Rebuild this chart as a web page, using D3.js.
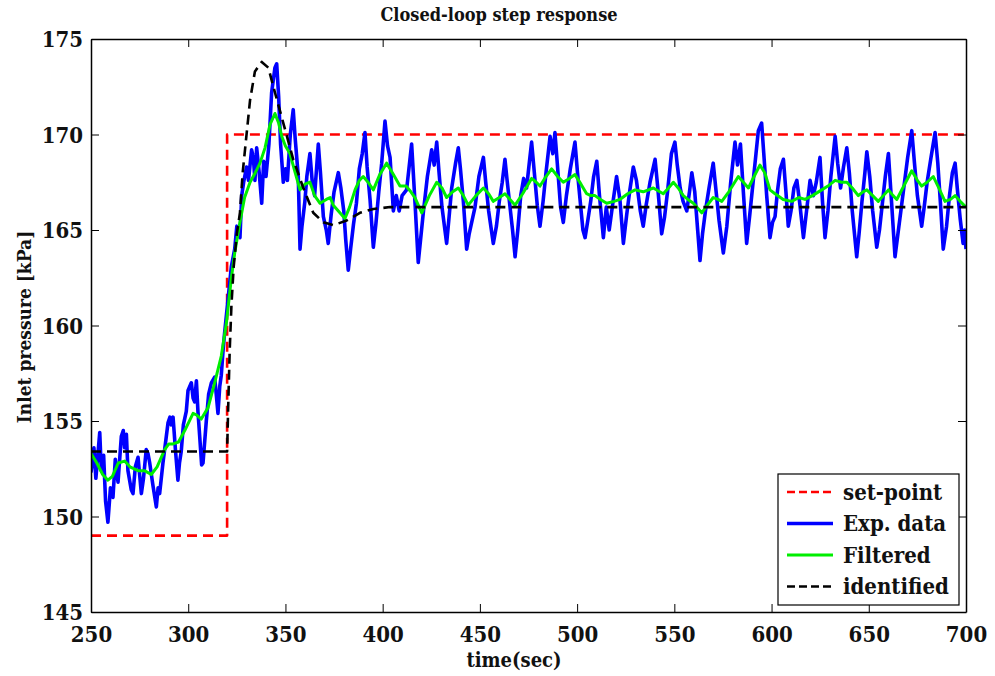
<!DOCTYPE html>
<html lang="en">
<head>
  <meta charset="UTF-8">
  <title>Closed-loop step response</title>
  <script src="https://d3js.org/d3.v7.min.js"></script>
  <style>
    body { margin: 0; background: #fff; }
    text { font-family: "DejaVu Serif Condensed", "DejaVu Serif", serif; font-stretch: condensed; font-weight: bold; fill: #111; }
  </style>
</head>
<body>
  <script>
    // set-point
    const spT = [250, 320, 320, 700];
    const spV = [149, 149, 170, 170];

    const expT = [250.0, 251.5, 252.5, 254.5, 255.3, 256.5, 257.5, 258.7, 260.0, 261.3, 262.5, 263.9, 265.6, 266.6, 267.3, 268.2, 269.0, 270.7, 271.6, 272.8,
      274.2, 275.9, 277.0, 278.4, 279.3, 280.2, 281.9, 283.6, 284.5, 285.3, 287.0, 288.5, 289.6, 290.6, 291.3, 292.2, 293.5, 294.7, 295.5, 296.4,
      297.5, 299.0, 299.9, 301.6, 302.5, 303.3, 304.2, 305.0, 305.9, 306.9, 307.6, 309.3, 310.5, 311.9, 313.6, 314.5, 315.3, 316.2, 317.0, 318.0,
      318.7, 320.4, 322.2, 323.9, 325.0, 326.6, 327.5, 328.5, 330.0, 331.0, 332.6, 333.5, 334.3, 335.2, 336.5, 337.8, 338.8, 340.0, 341.5, 342.9,
      344.6, 345.5, 346.5, 347.5, 348.9, 350.0, 351.0, 352.5, 354.0, 355.0, 356.6, 357.5, 358.5, 360.0, 361.0, 362.6, 363.8, 365.0, 366.9, 368.0,
      369.5, 371.0, 372.0, 373.5, 375.0, 377.2, 378.5, 380.0, 381.0, 382.3, 383.5, 385.0, 386.5, 388.0, 389.5, 390.9, 392.0, 393.5, 395.2, 396.5,
      398.0, 399.5, 401.2, 402.5, 403.8, 405.5, 407.0, 408.5, 410.0, 412.3, 413.5, 414.9, 416.6, 418.3, 419.5, 421.0, 423.0, 425.2, 426.5, 427.8,
      429.0, 430.5, 432.9, 434.0, 435.5, 437.5, 438.9, 440.0, 441.5, 443.2, 444.5, 446.0, 447.5, 449.5, 451.8, 453.0, 454.5, 456.9, 458.5, 460.0,
      461.5, 462.9, 464.0, 465.5, 466.8, 468.1, 469.5, 471.0, 472.5, 474.0, 475.5, 476.6, 478.0, 479.5, 480.9, 482.5, 484.0, 486.1, 487.5, 488.6,
      489.8, 491.5, 492.9, 494.5, 496.5, 498.9, 500.2, 501.5, 503.0, 504.1, 505.5, 507.0, 508.5, 510.1, 511.5, 513.5, 515.0, 516.5, 518.5, 520.3,
      522.0, 523.8, 525.5, 527.0, 528.9, 530.5, 532.5, 534.0, 535.5, 537.5, 540.1, 541.5, 543.5, 545.0, 546.5, 548.5, 550.3, 551.5, 553.0, 554.5,
      556.4, 557.8, 559.0, 560.5, 562.0, 563.2, 564.5, 566.0, 568.0, 570.0, 571.5, 573.0, 575.2, 577.0, 579.0, 581.2, 582.5, 584.0, 585.5, 587.2,
      588.8, 590.5, 592.0, 593.2, 594.9, 596.0, 597.5, 599.2, 600.5, 601.8, 603.0, 604.5, 606.1, 607.4, 608.6, 610.0, 611.5, 613.0, 614.5, 616.4,
      618.0, 619.8, 621.5, 623.0, 624.9, 626.2, 627.5, 629.0, 630.5, 632.7, 634.0, 635.5, 637.0, 638.7, 640.0, 641.5, 643.8, 645.0, 646.5, 648.0,
      649.0, 650.5, 652.0, 654.1, 655.5, 657.0, 658.5, 660.1, 661.5, 663.5, 665.0, 666.5, 668.0, 670.0, 672.1, 673.5, 675.0, 677.2, 678.5, 680.0,
      682.0, 684.1, 685.5, 686.8, 688.3, 690.0, 691.5, 693.0, 694.4, 695.5, 697.0, 698.5, 699.3, 700.0];
    const expV = [152.3, 153.6, 152.0, 154.4, 152.4, 153.2, 150.8, 149.7, 151.5, 151.0, 153.0, 151.8, 154.2, 154.5, 153.6, 154.3, 152.4, 151.4, 151.2, 152.6,
      153.1, 151.2, 152.0, 153.5, 153.3, 152.8, 151.6, 150.5, 151.5, 151.2, 152.8, 154.0, 154.9, 155.2, 154.8, 155.2, 153.4, 151.9, 152.8, 153.4,
      154.8, 155.5, 156.6, 157.0, 156.2, 156.0, 157.1, 155.5, 154.2, 152.7, 152.8, 155.0, 156.4, 157.0, 157.3, 156.3, 155.4, 156.8, 157.4, 158.8,
      159.6, 161.3, 163.1, 164.0, 165.2, 164.6, 166.8, 167.5, 168.3, 167.6, 169.2, 168.8, 167.6, 169.3, 168.0, 166.4, 168.6, 167.8, 169.5, 172.2,
      173.5, 173.7, 172.0, 169.5, 167.5, 168.2, 167.6, 170.0, 171.3, 169.8, 167.8, 164.0, 165.2, 166.5, 167.8, 169.0, 167.5, 166.8, 169.5, 168.0,
      165.7, 165.0, 164.3, 165.8, 167.0, 168.0, 167.2, 166.0, 164.5, 162.9, 164.0, 165.3, 166.4, 168.2, 169.0, 170.1, 168.3, 166.6, 164.1, 165.3,
      167.0, 168.5, 170.7, 169.4, 168.8, 166.0, 166.8, 166.0, 166.8, 167.1, 168.2, 169.5, 166.5, 163.3, 164.5, 166.0, 167.8, 169.2, 168.4, 169.6,
      168.0, 166.2, 164.3, 165.5, 167.2, 168.5, 169.3, 168.2, 166.5, 164.0, 164.8, 165.5, 166.2, 167.8, 168.8, 167.5, 166.0, 164.3, 165.2, 166.5,
      167.5, 168.7, 167.6, 166.2, 165.0, 163.6, 165.0, 166.8, 167.7, 167.2, 168.6, 169.6, 168.0, 166.3, 165.2, 166.5, 168.0, 169.9, 169.0, 170.1,
      168.5, 166.2, 165.4, 166.8, 168.2, 169.6, 168.0, 166.6, 165.0, 164.6, 165.5, 166.5, 167.8, 168.6, 166.8, 164.6, 166.2, 165.0, 166.5, 167.8,
      166.6, 164.3, 165.8, 167.0, 168.3, 167.6, 166.0, 165.2, 166.3, 167.5, 168.7, 167.2, 164.8, 165.7, 167.0, 169.0, 169.6, 168.4, 167.2, 166.5,
      166.0, 167.0, 168.0, 167.0, 165.0, 163.4, 164.8, 166.0, 167.3, 168.5, 167.0, 165.5, 163.8, 165.2, 167.5, 169.6, 168.4, 169.5, 167.0, 164.3,
      165.8, 167.5, 169.0, 170.2, 170.6, 169.0, 166.8, 164.6, 165.4, 165.7, 167.0, 168.2, 168.7, 167.0, 165.2, 166.0, 167.2, 167.6, 166.4, 164.6,
      166.0, 167.6, 166.8, 167.5, 168.8, 166.5, 164.6, 166.0, 167.8, 169.9, 168.5, 167.2, 168.3, 169.3, 168.0, 166.0, 163.6, 164.8, 166.5, 168.0,
      169.1, 167.8, 166.0, 164.1, 165.0, 166.4, 167.8, 169.0, 166.8, 163.6, 164.8, 166.0, 167.2, 168.8, 170.2, 168.5, 166.8, 165.2, 166.2, 167.5,
      168.8, 170.1, 168.5, 166.5, 164.0, 165.2, 166.8, 168.0, 168.5, 167.2, 165.6, 164.3, 165.0, 164.0];

    // filtered data
    const filT = [250, 253, 256, 258.7, 261, 264, 267.3, 270, 274.2, 277.5, 281, 284, 287.9, 290, 292.2, 295, 298.2, 302.5, 304.5, 306.7,
      310.2, 313.6, 317.0, 319.6, 322.2, 323.9, 326.6, 329, 331.8, 334.5, 336.9, 339.5, 342, 344.6, 346.5, 348.1, 350, 352.3, 355, 357.5,
      360, 362.6, 365, 367.8, 371, 373, 374.6, 378, 380.6, 383, 385.8, 388, 390.0, 392.5, 395.2, 398.5, 402.0, 405, 408.9, 412,
      414.5, 416.6, 420.1, 424, 427.8, 430.5, 432.9, 436, 438.9, 441.5, 444.0, 448, 451.8, 454.5, 456.9, 460, 462.9, 465.5, 468.1, 472,
      476.6, 479, 480.9, 484, 486.9, 490, 492.9, 496, 498.9, 502, 504.9, 507, 509.2, 512, 515.2, 519, 522, 526, 529.8, 534,
      539.2, 544.3, 547, 549.5, 552, 554.6, 557, 559.8, 564.1, 567, 570.0, 572.5, 574.4, 578, 582.9, 585.5, 588.1, 591, 594.0, 596.5,
      599.2, 601.8, 606, 610.4, 614, 617.2, 621, 625.8, 629, 632.7, 636, 638.7, 641.5, 644.6, 647, 649.0, 652, 654.9, 657.5, 660.1,
      662.5, 664.4, 668, 672.1, 675, 677.2, 680, 683.2, 686, 689.2, 692, 694.4, 697, 700];
    const filV = [153.3, 152.8, 152.2, 151.9, 152.1, 152.8, 152.9, 152.6, 152.4, 152.4, 152.2, 152.6, 153.5, 153.8, 153.8, 153.9, 154.5, 155.4, 155.3, 155.1,
      155.7, 157.0, 158.4, 160.1, 162.5, 163.8, 165.4, 166.7, 167.5, 168.0, 168.5, 169.3, 170.5, 171.1, 170.6, 169.9, 169.4, 169.0, 168.0, 167.1,
      167.4, 167.5, 166.8, 166.4, 166.6, 166.7, 166.3, 165.9, 165.6, 166.2, 167.1, 167.6, 167.8, 167.5, 167.1, 167.9, 168.5, 168.0, 167.3, 167.3,
      167.0, 166.7, 165.9, 166.8, 167.5, 167.2, 166.7, 167.0, 167.2, 166.8, 166.3, 166.8, 167.2, 166.9, 166.5, 166.7, 166.9, 166.6, 166.3, 166.9,
      167.7, 167.5, 167.3, 167.8, 168.2, 167.8, 167.5, 167.7, 167.9, 167.4, 166.9, 166.8, 166.8, 166.6, 166.4, 166.5, 166.6, 166.9, 167.1, 167.0,
      167.2, 166.9, 167.2, 167.5, 167.2, 166.8, 166.6, 166.4, 165.9, 166.3, 166.7, 166.6, 166.5, 167.0, 167.8, 167.5, 167.2, 167.8, 168.4, 168.0,
      167.1, 166.9, 166.6, 166.5, 166.7, 166.6, 166.8, 167.1, 167.3, 167.6, 167.5, 167.5, 167.2, 166.8, 167.0, 167.1, 166.8, 166.5, 166.8, 167.1,
      166.8, 166.6, 167.3, 168.1, 167.6, 167.3, 167.5, 167.8, 167.2, 166.5, 166.6, 166.8, 166.5, 166.2];

    // identified model response
    const idT = [250, 320, 320.5, 321.3, 322.2, 323.4, 325, 326.6, 328, 329.2, 331.8, 334.3, 337.8, 341.2, 344.6, 348.9, 354.0, 359.2, 364.3, 369.5,
      374.6, 381.5, 388.3, 395.2, 403.8, 700];
    const idV = [153.4, 153.4, 155.5, 158.6, 161.0, 163.1, 164.8, 165.9, 168.0, 169.2, 171.8, 173.3, 173.8, 173.5, 172.2, 170.6, 168.7, 167.2, 165.9, 165.4,
      165.25, 165.5, 165.9, 166.1, 166.2, 166.2];

    const xTicks = [250, 300, 350, 400, 450, 500, 550, 600, 650, 700];
    const yTicks = [145, 150, 155, 160, 165, 170, 175];

    const series = [
      { name: "set-point", t: spT, v: spV, color: "#ff0000", dash: "10,6", width: 2.6 },
      { name: "Exp. data", t: expT, v: expV, color: "#0000ff", dash: null, width: 3.6 },
      { name: "Filtered", t: filT, v: filV, color: "#00ee00", dash: null, width: 3 },
      { name: "identified", t: idT, v: idV, color: "#000000", dash: "10,6", width: 2.6 }
    ];

    const W = 995, H = 676;
    const margin = { left: 91, top: 39, right: 29, bottom: 64 };
    const w = W - margin.left - margin.right;
    const h = H - margin.top - margin.bottom;

    const svg = d3.select("body").append("svg")
      .attr("width", W)
      .attr("height", H);

    const x = d3.scaleLinear().domain([250, 700]).range([0, w]);
    const y = d3.scaleLinear().domain([145, 175]).range([h, 0]);

    const g = svg.append("g").attr("transform", `translate(${margin.left},${margin.top})`);

    g.append("rect").attr("width", w).attr("height", h).attr("fill", "#fff");

    // lines
    svg.append("defs").append("clipPath").attr("id", "clip")
      .append("rect").attr("width", w).attr("height", h);

    const line = d3.line().x(d => x(d[0])).y(d => y(d[1]));
    const lines = g.append("g").attr("clip-path", "url(#clip)");
    series.forEach(s => {
      lines.append("path")
        .datum(s.t.map((t, i) => [t, s.v[i]]))
        .attr("d", line)
        .attr("fill", "none")
        .attr("stroke", s.color)
        .attr("stroke-width", s.width)
        .attr("stroke-linejoin", "round")
        .attr("stroke-dasharray", s.dash);
    });

    // axes, ticks inside on all four sides
    const tickLen = 8;
    const axB = g.append("g").attr("transform", `translate(0,${h})`)
      .call(d3.axisBottom(x).tickValues(xTicks).tickSizeInner(-tickLen).tickSizeOuter(0).tickPadding(14));
    const axL = g.append("g")
      .call(d3.axisLeft(y).tickValues(yTicks).tickSizeInner(-tickLen).tickSizeOuter(0).tickPadding(8));
    g.append("g")
      .call(d3.axisTop(x).tickValues(xTicks).tickSizeInner(-tickLen).tickSizeOuter(0).tickFormat(""));
    g.append("g").attr("transform", `translate(${w},0)`)
      .call(d3.axisRight(y).tickValues(yTicks).tickSizeInner(-tickLen).tickSizeOuter(0).tickFormat(""));

    g.selectAll(".domain").attr("stroke", "#000").attr("stroke-width", 1.5);
    g.selectAll(".tick line").attr("stroke", "#000").attr("stroke-width", 1);
    axB.selectAll("text").style("font-size", "22px").attr("dy", "0.71em");
    axL.selectAll("text").style("font-size", "22px").attr("dy", "0.36em");

    // labels
    svg.append("text")
      .attr("x", 499).attr("y", 21)
      .attr("text-anchor", "middle")
      .style("font-size", "18px")
      .text("Closed-loop step response");

    svg.append("text")
      .attr("x", 514).attr("y", 667)
      .attr("text-anchor", "middle")
      .style("font-size", "20px")
      .text("time(sec)");

    svg.append("text")
      .attr("transform", "translate(31,327) rotate(-90)")
      .attr("text-anchor", "middle")
      .style("font-size", "19px")
      .text("Inlet pressure [kPa]");

    // legend
    const lg = svg.append("g").attr("transform", "translate(778,474)");
    lg.append("rect").attr("width", 181).attr("height", 131)
      .attr("fill", "#fff").attr("stroke", "#000").attr("stroke-width", 1.2);
    series.forEach((s, i) => {
      const yy = 18 + i * 31.5;
      lg.append("line")
        .attr("x1", 9).attr("x2", 55).attr("y1", yy).attr("y2", yy)
        .attr("stroke", s.color).attr("stroke-width", s.width)
        .attr("stroke-dasharray", s.dash ? "8,4" : null);
      lg.append("text")
        .attr("x", 65).attr("y", yy).attr("dy", "0.35em")
        .style("font-size", "22px")
        .text(s.name);
    });
  </script>
</body>
</html>
